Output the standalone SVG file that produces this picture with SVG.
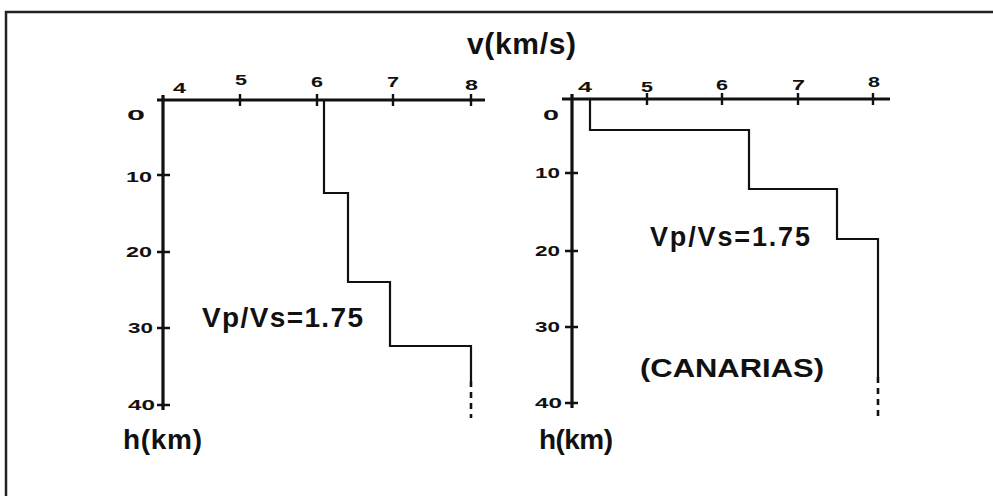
<svg xmlns="http://www.w3.org/2000/svg" width="993" height="496" viewBox="0 0 993 496">
<style>
.ax{stroke:#111;stroke-width:3.2;fill:none;stroke-linecap:butt}
.tk{stroke:#111;stroke-width:2.4;fill:none}
.pr{stroke:#111;stroke-width:2.2;fill:none}
.dt{stroke:#111;stroke-width:2.6;fill:none;stroke-dasharray:6 5}
.fr{stroke:#222;stroke-width:2.5;fill:none}
.big{font-family:"Liberation Sans",Arial,sans-serif;font-weight:bold;fill:#111}
.num{font-family:"Liberation Sans",Arial,sans-serif;font-weight:bold;font-size:14px;fill:#111}
</style>
<rect width="993" height="496" fill="#fff"/>
<g id="frame">
<path class="fr" d="M6,496 V12 H993"/>
</g>
<text class="big" x="467" y="54" font-size="30" textLength="109">v(km/s)</text>

<g id="left-chart">
<path class="ax" d="M157,100 H485 M163,95 V410"/>
<path class="tk" d="M240,94 V106 M317,94 V106 M393,94 V106 M471,94 V106 M157,175 H170 M157,252 H170 M157,328 H170 M157,405 H170"/>
<text class="num" x="173" y="93" textLength="13" lengthAdjust="spacingAndGlyphs">4</text>
<text class="num" x="235" y="85" textLength="12" lengthAdjust="spacingAndGlyphs">5</text>
<text class="num" x="311" y="87" textLength="12" lengthAdjust="spacingAndGlyphs">6</text>
<text class="num" x="387" y="87" textLength="12" lengthAdjust="spacingAndGlyphs">7</text>
<text class="num" x="465" y="90" textLength="13" lengthAdjust="spacingAndGlyphs">8</text>
<text class="num" x="127" y="120" textLength="18" lengthAdjust="spacingAndGlyphs">0</text>
<text class="num" x="126" y="182" textLength="26" lengthAdjust="spacingAndGlyphs">10</text>
<text class="num" x="126" y="257" textLength="26" lengthAdjust="spacingAndGlyphs">20</text>
<text class="num" x="128" y="333" textLength="25" lengthAdjust="spacingAndGlyphs">30</text>
<text class="num" x="128" y="410" textLength="27" lengthAdjust="spacingAndGlyphs">40</text>
<text class="big" x="123" y="449" font-size="28" textLength="79">h(km)</text>
<text class="big" x="202" y="327" font-size="28" textLength="161">Vp/Vs=1.75</text>
</g>

<g id="right-chart">
<path class="ax" d="M562,99 H890 M572,94 V408"/>
<path class="tk" d="M647,93 V105 M722,93 V105 M798,93 V105 M873,93 V105 M565,173 H578 M565,251 H578 M565,327 H578 M565,403 H578"/>
<text class="num" x="578" y="92" textLength="14" lengthAdjust="spacingAndGlyphs">4</text>
<text class="num" x="641" y="92" textLength="12" lengthAdjust="spacingAndGlyphs">5</text>
<text class="num" x="716" y="90" textLength="12" lengthAdjust="spacingAndGlyphs">6</text>
<text class="num" x="792" y="90" textLength="13" lengthAdjust="spacingAndGlyphs">7</text>
<text class="num" x="868" y="87" textLength="12" lengthAdjust="spacingAndGlyphs">8</text>
<text class="num" x="543" y="120" textLength="16" lengthAdjust="spacingAndGlyphs">0</text>
<text class="num" x="535" y="178" textLength="25" lengthAdjust="spacingAndGlyphs">10</text>
<text class="num" x="535" y="256" textLength="25" lengthAdjust="spacingAndGlyphs">20</text>
<text class="num" x="535" y="332" textLength="25" lengthAdjust="spacingAndGlyphs">30</text>
<text class="num" x="535" y="408" textLength="27" lengthAdjust="spacingAndGlyphs">40</text>
<text class="big" x="539" y="449" font-size="28" textLength="74">h(km)</text>
<text class="big" x="650" y="246" font-size="27" textLength="160">Vp/Vs=1.75</text>
<text class="big" x="640" y="377" font-size="26" textLength="184" lengthAdjust="spacingAndGlyphs">(CANARIAS)</text>
</g>

<g id="connectors">
<path class="pr" d="M324,100 V193 H348 V282 H390 V346 H471 V381"/>
<path class="dt" d="M471,381 V418"/>
<path class="pr" d="M590,99 V130 H749 V189 H837 V239 H878 V377"/>
<path class="dt" d="M878,377 V421"/>
</g>
</svg>
